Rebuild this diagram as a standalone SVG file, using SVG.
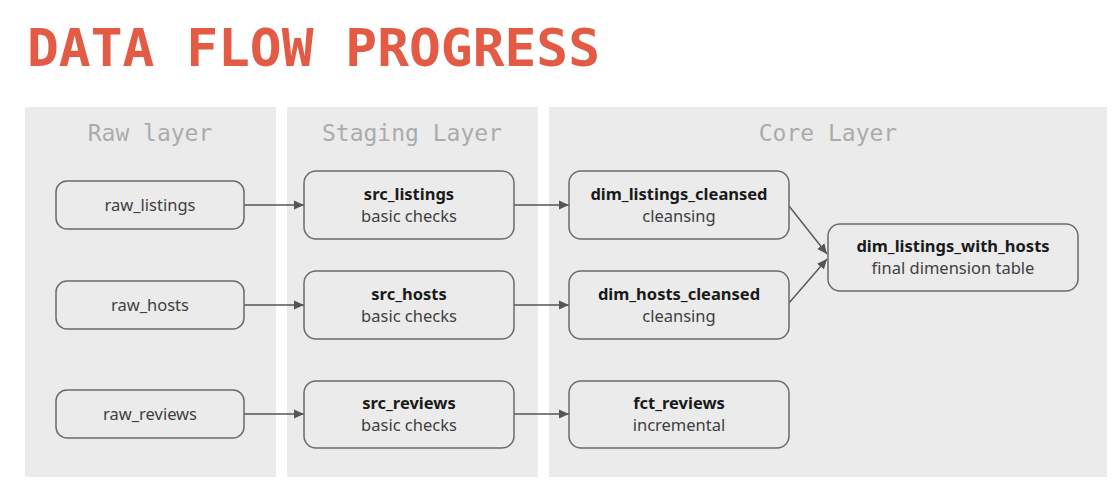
<svg xmlns="http://www.w3.org/2000/svg" width="1113" height="488" viewBox="0 0 1113 488">
<defs>
<style>
.panel{fill:#ebebeb}
.layer{font-family:"DejaVu Sans Mono","Liberation Mono",monospace;font-size:23px;fill:#ababab;text-anchor:middle}
.box{fill:#ebebeb;stroke:#6b6b6b;stroke-width:1.5}
.t{font-family:"Noto Sans","Open Sans",sans-serif;font-size:16.5px;fill:#2b2b2b;text-anchor:middle}
.b{font-weight:700;fill:#1a1a1a}
.s{fill:#3f3f3f}
.edge{stroke:#555;stroke-width:1.4;fill:none;marker-end:url(#ah)}
</style>
<marker id="ah" viewBox="0 0 10 10" refX="10" refY="5" markerWidth="10" markerHeight="10" markerUnits="userSpaceOnUse" orient="auto">
<path d="M0,0.5 L10,5 L0,9.5 z" fill="#555"/>
</marker>
</defs>
<rect width="1113" height="488" fill="#fff"/>
<text x="27" y="66" font-family="DejaVu Sans Mono,Liberation Mono,monospace" font-weight="700" font-size="52" fill="#e35b45" textLength="573" lengthAdjust="spacingAndGlyphs">DATA FLOW PROGRESS</text>

<g id="panels">
<rect class="panel" x="25" y="107" width="251" height="370"/>
<rect class="panel" x="287" y="107" width="251" height="370"/>
<rect class="panel" x="549" y="107" width="558" height="370"/>
<text class="layer" x="150" y="141">Raw layer</text>
<text class="layer" x="412" y="141">Staging Layer</text>
<text class="layer" x="828" y="141">Core Layer</text>
</g>

<g id="connectors">
<line class="edge" x1="244" y1="205" x2="304" y2="205"/>
<line class="edge" x1="244" y1="305" x2="304" y2="305"/>
<line class="edge" x1="244" y1="414" x2="304" y2="414"/>
<line class="edge" x1="514" y1="205" x2="569" y2="205"/>
<line class="edge" x1="514" y1="305" x2="569" y2="305"/>
<line class="edge" x1="514" y1="414" x2="569" y2="414"/>
<line class="edge" x1="789" y1="206" x2="827" y2="254"/>
<line class="edge" x1="789" y1="303" x2="827" y2="259"/>
</g>

<g id="raw_listings"><rect class="box" x="56" y="181" width="188" height="48" rx="11"/><text class="t s" x="150" y="211">raw_listings</text></g>
<g id="raw_hosts"><rect class="box" x="56" y="281" width="188" height="48" rx="11"/><text class="t s" x="150" y="311">raw_hosts</text></g>
<g id="raw_reviews"><rect class="box" x="56" y="390" width="188" height="48" rx="11"/><text class="t s" x="150" y="420">raw_reviews</text></g>

<g id="src_listings"><rect class="box" x="304" y="171" width="210" height="68" rx="12"/><text class="t b" x="409" y="200">src_listings</text><text class="t s" x="409" y="222">basic checks</text></g>
<g id="src_hosts"><rect class="box" x="304" y="271" width="210" height="68" rx="12"/><text class="t b" x="409" y="300">src_hosts</text><text class="t s" x="409" y="322">basic checks</text></g>
<g id="src_reviews"><rect class="box" x="304" y="381" width="210" height="67" rx="12"/><text class="t b" x="409" y="409">src_reviews</text><text class="t s" x="409" y="431">basic checks</text></g>

<g id="dim_listings_cleansed"><rect class="box" x="569" y="171" width="220" height="68" rx="12"/><text class="t b" x="679" y="200">dim_listings_cleansed</text><text class="t s" x="679" y="222">cleansing</text></g>
<g id="dim_hosts_cleansed"><rect class="box" x="569" y="271" width="220" height="68" rx="12"/><text class="t b" x="679" y="300">dim_hosts_cleansed</text><text class="t s" x="679" y="322">cleansing</text></g>
<g id="fct_reviews"><rect class="box" x="569" y="381" width="220" height="67" rx="12"/><text class="t b" x="679" y="409">fct_reviews</text><text class="t s" x="679" y="431">incremental</text></g>

<g id="dim_listings_with_hosts"><rect class="box" x="828" y="224" width="250" height="67" rx="12"/><text class="t b" x="953" y="252">dim_listings_with_hosts</text><text class="t s" x="953" y="274">final dimension table</text></g>
</svg>
